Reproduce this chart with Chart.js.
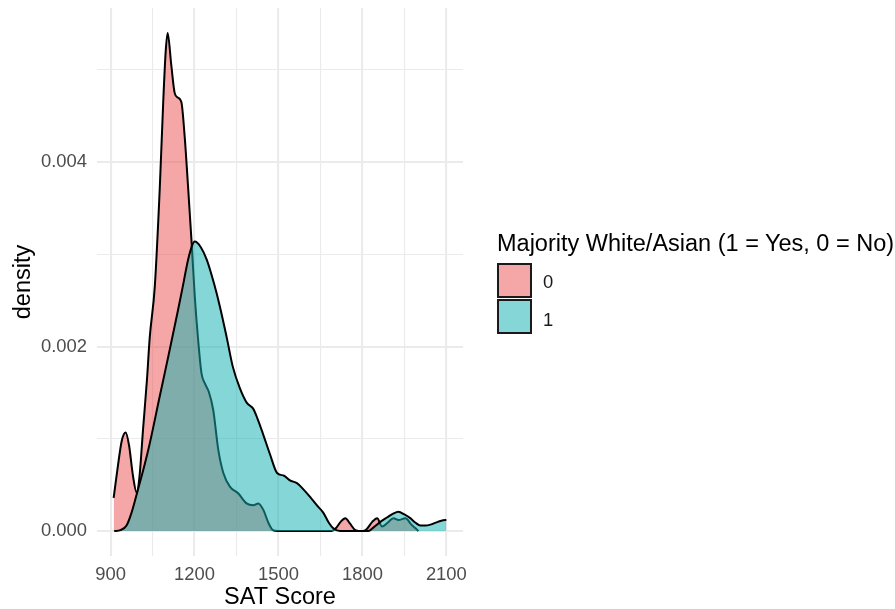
<!DOCTYPE html>
<html>
<head>
<meta charset="utf-8">
<script src="https://cdn.jsdelivr.net/npm/chart.js@4/dist/chart.umd.min.js"></script>
<style>
  body { margin: 0; background: #fff; font-family: "Liberation Sans", Arial, sans-serif; }
  #wrap { position: relative; width: 895px; height: 609px; }
  #legend-title { position: absolute; left: 497px; top: 229px; font-size: 23.5px; line-height: 28px; color: #000; white-space: nowrap; }
  .key { position: absolute; left: 497px; width: 35px; height: 35px; box-sizing: border-box; border: 2px solid #1a1a1a; }
  .key-lbl { position: absolute; left: 543px; font-size: 18.4px; line-height: 20px; color: #1a1a1a; }
</style>
</head>
<body>
<div id="wrap">
  <canvas id="c" width="895" height="609"></canvas>
  <div id="legend-title">Majority White/Asian (1 = Yes, 0 = No)</div>
  <div class="key" id="k0" style="top:263px"></div>
  <div class="key-lbl" style="top:272px">0</div>
  <div class="key" id="k1" style="top:299px"></div>
  <div class="key-lbl" style="top:310px">1</div>
</div>
<script>
// density estimates, group 0 (not majority) and group 1 (majority)
var sat0 = [911, 925, 940, 954, 966, 980, 993, 1003, 1016, 1030, 1040, 1058, 1076, 1088, 1097, 1104, 1117, 1129, 1140, 1153, 1165, 1177, 1189, 1201, 1213, 1225, 1237, 1251, 1267, 1285, 1303, 1327, 1356, 1386, 1410, 1428, 1446, 1464, 1481, 1520, 1690, 1705, 1722, 1739, 1756, 1775, 1800, 1815, 1835, 1853, 1870, 1890, 1911, 1929, 1954, 1975, 1990, 2000];
var dens0 = [0.00036, 0.00068, 0.00098, 0.00107, 0.00093, 0.00060, 0.00042, 0.00058, 0.00110, 0.00164, 0.00210, 0.00265, 0.00373, 0.00464, 0.00520, 0.00540, 0.00505, 0.00475, 0.00470, 0.00465, 0.00427, 0.00373, 0.00316, 0.00254, 0.00207, 0.00171, 0.00160, 0.00151, 0.00131, 0.00088, 0.00063, 0.00048, 0.00041, 0.00030, 0.00028, 0.00030, 0.00023, 0.00009, 0.00001, 0, 0, 0.00003, 0.00010, 0.00014, 0.00008, 0.00001, 0, 0.00002, 0.00010, 0.00014, 0.00005, 0.00009, 0.00014, 0.00012, 0.00014, 0.00007, 0.00003, 0];

var sat1 = [913, 935, 957, 975, 997, 1020, 1040, 1075, 1111, 1140, 1158, 1180, 1201, 1222, 1244, 1270, 1291, 1315, 1337, 1362, 1387, 1409, 1425, 1444, 1470, 1495, 1520, 1541, 1566, 1590, 1613, 1640, 1660, 1680, 1696, 1720, 1800, 1821, 1840, 1864, 1889, 1910, 1929, 1950, 1971, 1990, 2007, 2025, 2043, 2070, 2097, 2100];
var dens1 = [0, 0.00001, 0.00006, 0.00020, 0.00044, 0.00070, 0.00095, 0.00145, 0.00196, 0.00238, 0.00265, 0.00298, 0.00314, 0.00308, 0.00294, 0.00268, 0.00243, 0.00210, 0.00178, 0.00155, 0.00139, 0.00133, 0.00122, 0.00106, 0.00083, 0.00063, 0.00060, 0.00055, 0.00052, 0.00045, 0.00037, 0.00027, 0.00020, 0.00009, 0.00003, 0, 0, 0, 0.00004, 0.00010, 0.00015, 0.00019, 0.00021, 0.00018, 0.00014, 0.00009, 0.00006, 0.00006, 0.00007, 0.00010, 0.00012, 0.00012];

var xTicks = [900, 1050, 1200, 1350, 1500, 1650, 1800, 1950, 2100];
var yTicks = [0, 0.001, 0.002, 0.003, 0.004, 0.005];

var FILL0 = 'rgba(233,79,77,0.5)', FILL1 = 'rgba(20,178,176,0.52)';
document.getElementById('k0').style.background = FILL0;
document.getElementById('k1').style.background = FILL1;

function pts(xs, ys) { return xs.map(function (x, i) { return { x: x, y: ys[i] }; }); }

var TICK_FONT = { family: '"Liberation Sans", Arial, sans-serif', size: 18.4 };
var TITLE_FONT = { family: '"Liberation Sans", Arial, sans-serif', size: 23.5 };

new Chart(document.getElementById('c').getContext('2d'), {
  type: 'line',
  data: {
    datasets: [
      // teal first so it is drawn on top of the red area
      { label: '1', data: pts(sat1, dens1), backgroundColor: FILL1, borderColor: '#000', borderWidth: 2, fill: 'origin', pointRadius: 0, cubicInterpolationMode: 'monotone', tension: 0.4 },
      { label: '0', data: pts(sat0, dens0), backgroundColor: FILL0, borderColor: '#000', borderWidth: 2, fill: 'origin', pointRadius: 0, cubicInterpolationMode: 'monotone', tension: 0.4 }
    ]
  },
  options: {
    responsive: false,
    animation: false,
    layout: { padding: { top: 8, right: 432, left: 0, bottom: 0 } },
    plugins: { legend: { display: false }, tooltip: { enabled: false } },
    scales: {
      x: {
        type: 'linear', min: 851.5, max: 2159.5,
        afterBuildTicks: function (s) { s.ticks = xTicks.map(function (v) { return { value: v }; }); },
        afterFit: function (s) { s.height = 53; s.paddingLeft = 0; s.paddingRight = 0; },
        border: { display: false },
        grid: {
          drawTicks: false, color: '#EBEBEB',
          lineWidth: function (c) { return c.tick && c.tick.value % 300 === 0 ? 2.1 : 1.1; }
        },
        ticks: {
          padding: 8, color: '#4D4D4D', font: TICK_FONT, maxRotation: 0, autoSkip: false,
          callback: function (v) { return v % 300 === 0 ? String(v) : ''; }
        },
        title: { display: true, text: 'SAT Score', color: '#000', font: Object.assign({ lineHeight: 1 }, TITLE_FONT), padding: { top: 0, bottom: 0 } }
      },
      y: {
        min: -0.00027, max: 0.00567,
        afterBuildTicks: function (s) { s.ticks = yTicks.map(function (v) { return { value: v }; }); },
        afterFit: function (s) { s.width = 97; s.paddingTop = 0; s.paddingBottom = 0; },
        border: { display: false },
        grid: {
          drawTicks: false, color: '#EBEBEB',
          lineWidth: function (c) { return c.tick && Math.round(c.tick.value * 1000) % 2 === 0 ? 2.1 : 1.1; }
        },
        ticks: {
          padding: 10, color: '#4D4D4D', font: TICK_FONT, autoSkip: false,
          callback: function (v) { return Math.round(v * 1000) % 2 === 0 ? v.toFixed(3) : ''; }
        },
        title: { display: true, text: 'density', color: '#000', font: TITLE_FONT, padding: { top: 9, bottom: 0 } }
      }
    }
  }
});
</script>
</body>
</html>
